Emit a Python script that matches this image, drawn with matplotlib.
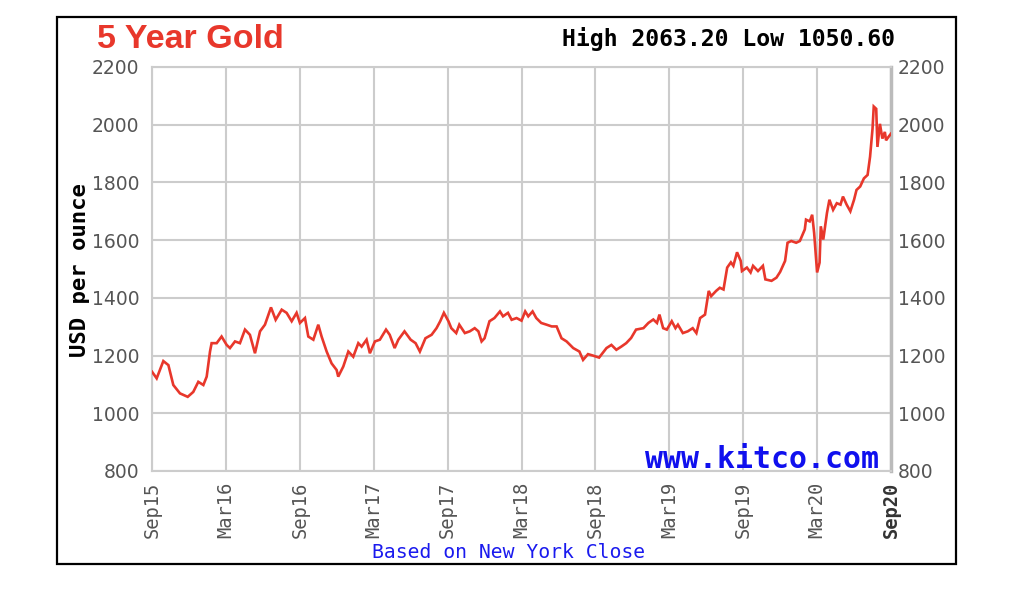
import matplotlib
matplotlib.use("Agg")
import matplotlib.pyplot as plt
from matplotlib.patches import Rectangle

# months since Sep 2015
months = [0.0, 0.38, 0.92, 1.33, 1.73, 2.27, 2.90, 3.35, 3.76, 4.17, 4.44, 4.71, 4.84,
          5.25, 5.65, 6.06, 6.33, 6.74, 7.14, 7.55, 7.95, 8.36, 8.77, 9.17, 9.66, 10.04,
          10.53, 10.93, 11.34, 11.74, 12.01, 12.42, 12.69, 13.10, 13.50, 13.77, 14.18,
          14.58, 14.99, 15.12, 15.53, 15.94, 16.34, 16.75, 17.02, 17.42, 17.69,
          18.1, 18.5, 19.0, 19.3, 19.7, 20.0, 20.5, 21.0, 21.4, 21.75, 22.2, 22.7, 23.1,
          23.4, 23.7, 24.07, 24.3, 24.7, 24.95, 25.4, 25.8, 26.2, 26.5, 26.76, 27.0, 27.4,
          27.8, 28.25, 28.5, 28.9, 29.2, 29.6, 30.0, 30.3, 30.55, 30.9, 31.2, 31.6, 32.04,
          32.45, 32.85, 33.25, 33.66, 34.2, 34.7, 35.0, 35.4, 35.8, 36.3,
          36.9, 37.3, 37.7, 38.1, 38.5, 38.9, 39.3, 39.9, 40.3, 40.7, 41.0, 41.2, 41.5,
          41.8, 42.2, 42.5, 42.7, 43.1, 43.5, 43.9, 44.2, 44.5, 44.9, 45.2, 45.4, 45.8,
          46.1, 46.4, 46.7, 47.0, 47.2, 47.5, 47.8, 47.9, 48.3, 48.6, 48.8, 49.2, 49.6,
          49.8, 50.3, 50.7, 51.0,
          51.4, 51.6, 51.9, 52.3, 52.6, 53.0, 53.1, 53.4, 53.6, 53.76, 54.0, 54.2, 54.3,
          54.5, 54.8, 55.0, 55.3, 55.6, 55.9, 56.1, 56.4, 56.7, 57.0, 57.2, 57.5, 57.8,
          58.1, 58.3, 58.5, 58.6, 58.8, 58.9, 59.1, 59.3, 59.5, 59.6, 59.8, 60.0]
prices = [1144, 1121, 1181, 1167, 1098, 1069, 1057, 1074, 1109, 1098, 1127, 1214, 1243,
          1243, 1266, 1237, 1226, 1249, 1243, 1290, 1272, 1208, 1284, 1307, 1367, 1324,
          1359, 1348, 1319, 1348, 1313, 1330, 1266, 1255, 1307, 1266, 1214,
          1173, 1150, 1127, 1162, 1214, 1196, 1243, 1231, 1255, 1208,
          1249, 1255, 1290, 1272, 1226, 1255, 1284, 1255, 1243, 1214, 1260, 1272, 1295,
          1319, 1348, 1319, 1295, 1278, 1307, 1278, 1284, 1295, 1284, 1249, 1260, 1319,
          1330, 1353, 1336, 1348, 1324, 1330, 1321, 1353, 1336, 1353, 1330, 1313, 1307,
          1301, 1301, 1260, 1249, 1226, 1214, 1185, 1205, 1200, 1193,
          1226, 1237, 1220, 1231, 1243, 1261, 1290, 1295, 1313, 1325, 1313, 1342, 1295,
          1290, 1319, 1295, 1307, 1278, 1284, 1295, 1278, 1330, 1342, 1424, 1406, 1424,
          1435, 1429, 1505, 1523, 1511, 1558, 1528, 1493, 1505, 1488, 1511, 1493, 1511,
          1464, 1459, 1470, 1490,
          1528, 1591, 1597, 1591, 1597, 1637, 1671, 1665, 1688, 1625, 1488, 1522, 1648,
          1602, 1694, 1740, 1705, 1728, 1723, 1751, 1723, 1700, 1740, 1774, 1786, 1814,
          1826, 1889, 1986, 2063, 2055, 1923, 2003, 1952, 1975, 1946, 1958, 1969]

tick_months = [0, 6, 12, 18, 24, 30, 36, 42, 48, 54, 60]
tick_labels = ["Sep15", "Mar16", "Sep16", "Mar17", "Sep17", "Mar18",
               "Sep18", "Mar19", "Sep19", "Mar20", "Sep20"]
y_ticks = [800, 1000, 1200, 1400, 1600, 1800, 2000, 2200]

RED = "#e8372b"
GRID = "#cccccc"
LABEL_GRAY = "#555555"

fig = plt.figure(figsize=(10.22, 5.96), dpi=100)
fig.patch.set_facecolor("white")
fig.add_artist(Rectangle((57 / 1022, 1 - 564 / 596), (956 - 57) / 1022, (564 - 17) / 596,
                         transform=fig.transFigure, fill=False, edgecolor="black", lw=1.6))

ax = fig.add_axes([152 / 1022, 1 - 471 / 596, (891 - 152) / 1022, (471 - 67) / 596])
ax.plot(months, prices, color=RED, lw=1.9, solid_joinstyle="miter", zorder=3)
ax.set_xlim(0, 60)
ax.set_ylim(800, 2200)
ax.set_xticks(tick_months)
ax.set_xticklabels(tick_labels, rotation=90, family="DejaVu Sans Mono", fontsize=13.5,
                   color=LABEL_GRAY)
ax.get_xticklabels()[-1].set_fontweight("bold")
ax.get_xticklabels()[-1].set_color("#333333")
ax.set_yticks(y_ticks)
ax.set_yticklabels([str(v) for v in y_ticks], family="DejaVu Sans", fontsize=13.5,
                   color=LABEL_GRAY)
ax.tick_params(axis="y", length=0, pad=9)
ax.tick_params(axis="x", length=0, pad=8)
ax.grid(True, color=GRID, lw=1.5, zorder=0)
for s in ["left", "top", "bottom"]:
    ax.spines[s].set_color(GRID)
    ax.spines[s].set_linewidth(1.5)
ax.spines["right"].set_color("#bbbbbb")
ax.spines["right"].set_linewidth(2.5)

ax2 = ax.twinx()
ax2.set_ylim(800, 2200)
ax2.set_yticks(y_ticks)
ax2.set_yticklabels([str(v) for v in y_ticks], family="DejaVu Sans", fontsize=13.5,
                    color=LABEL_GRAY)
ax2.tick_params(axis="y", length=0, pad=5)
for s in ax2.spines.values():
    s.set_visible(False)

fig.text(97 / 1022, 1 - 40 / 596, "5 Year Gold", color=RED, fontsize=24.5,
         fontweight="bold", family="Liberation Sans", va="center", ha="left")
fig.text(895 / 1022, 1 - 39 / 596, "High 2063.20 Low 1050.60", color="black",
         fontsize=16.7, fontweight="bold", family="DejaVu Sans Mono", va="center", ha="right")
fig.text(80 / 1022, 1 - 270 / 596, "USD per ounce", color="black", fontsize=16,
         fontweight="bold", family="DejaVu Sans Mono", rotation=90, va="center", ha="center")
fig.text(879 / 1022, 1 - 459 / 596, "www.kitco.com", color="#1010ee", fontsize=21.5,
         fontweight="bold", family="DejaVu Sans Mono", va="center", ha="right")
fig.text(509 / 1022, 1 - 553 / 596, "Based on New York Close", color="#1a1aee",
         fontsize=14.2, family="DejaVu Sans Mono", va="center", ha="center")

fig.savefig("out.png", dpi=100, facecolor="white")
